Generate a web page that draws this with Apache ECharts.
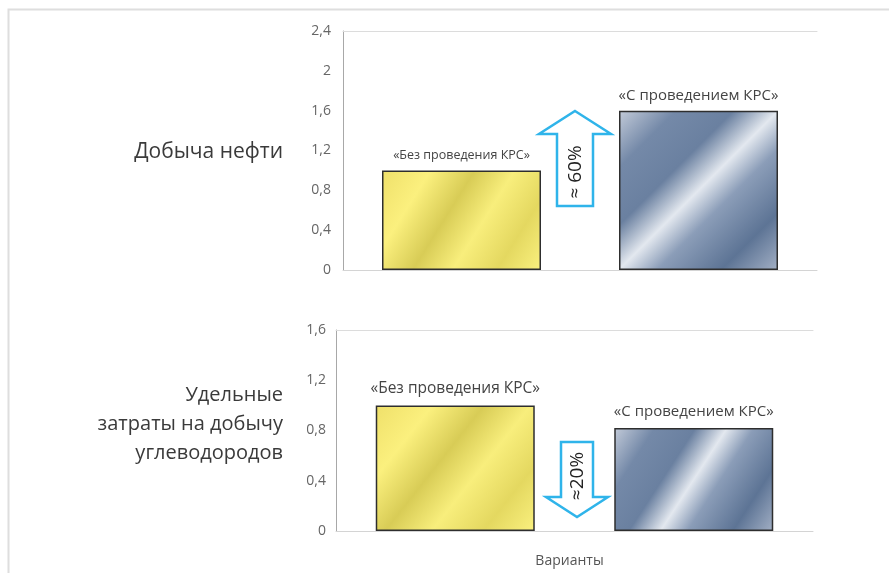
<!DOCTYPE html>
<html>
<head>
<meta charset="utf-8">
<script src="https://cdn.jsdelivr.net/npm/echarts@6/dist/echarts.min.js"></script>
<style>
  html, body { margin: 0; padding: 0; background: #fff; }
  #chart { width: 889px; height: 573px; }
</style>
</head>
<body>
<div id="chart"></div>
<script>
// Categories (variants) and values for both panels
const categories = ['«Без проведения КРС»', '«С проведением КРС»'];
const oilProduction = [1.0, 1.6];          // Добыча нефти
const specificCosts = [1.0, 0.82];         // Удельные затраты
const oilAxis = { max: 2.4, interval: 0.4 };
const costAxis = { max: 1.6, interval: 0.4 };
const oilChangeText = '≈ 60%';
const costChangeText = '≈20%';

const FONT = '"Open Sans", "Noto Sans", sans-serif';

const goldFill = new echarts.graphic.LinearGradient(0, 0, 1, 1, [
  { offset: 0, color: '#efe06a' },
  { offset: 0.22, color: '#fbf07e' },
  { offset: 0.42, color: '#d8cc56' },
  { offset: 0.6, color: '#f8ee7c' },
  { offset: 0.8, color: '#e4d860' },
  { offset: 1, color: '#faf17f' }
]);
const steelFill = new echarts.graphic.LinearGradient(0, 0, 1, 1, [
  { offset: 0, color: '#c3cbd9' },
  { offset: 0.18, color: '#7489a8' },
  { offset: 0.36, color: '#6a80a0' },
  { offset: 0.5, color: '#e3e8ef' },
  { offset: 0.62, color: '#8b9db8' },
  { offset: 0.82, color: '#5d7495' },
  { offset: 1, color: '#a3b0c5' }
]);
const fills = [goldFill, steelFill];

function fmt(v) {
  return String(+v.toFixed(1)).replace('.', ',');
}

function barData(values, labelSizes, labelDist) {
  return values.map((v, i) => ({
    value: v,
    itemStyle: { color: fills[i], borderColor: '#2e2e2e', borderWidth: 1.5 },
    label: { fontSize: labelSizes[i], distance: labelDist[i] }
  }));
}

const chart = echarts.init(document.getElementById('chart'), null, { renderer: 'canvas' });

const baseY = (idx, cfg, margin) => ({
  type: 'value', gridIndex: idx, min: 0, max: cfg.max, interval: cfg.interval,
  axisLine: { show: true, lineStyle: { color: '#a8a8a8', width: 1 } },
  axisTick: { show: false },
  splitLine: { show: false },
  axisLabel: { formatter: fmt, color: '#666', fontSize: 14, fontFamily: FONT, margin: margin }
});
const baseX = (idx, pos, extra) => Object.assign({
  type: 'category', gridIndex: idx, data: categories, position: pos,
  axisLine: { show: true, lineStyle: { color: '#d4d4d4', width: 1 } },
  axisTick: { show: false },
  axisLabel: { show: false }
}, extra || {});

function arrowUp(cx, tipY, headY, baseY, shaftHalf, headHalf) {
  return [[cx, tipY], [cx + headHalf, headY], [cx + shaftHalf, headY], [cx + shaftHalf, baseY],
          [cx - shaftHalf, baseY], [cx - shaftHalf, headY], [cx - headHalf, headY]];
}
function arrowDown(cx, topY, headY, tipY, shaftHalf, headHalf) {
  return [[cx - shaftHalf, topY], [cx + shaftHalf, topY], [cx + shaftHalf, headY], [cx + headHalf, headY],
          [cx, tipY], [cx - headHalf, headY], [cx - shaftHalf, headY]];
}

const arrowStyle = { fill: '#ffffff', stroke: '#2fb4ea', lineWidth: 2.5, lineJoin: 'miter' };

chart.setOption({
  animation: false,
  grid: [
    { left: 343, top: 31, width: 474, height: 239 },
    { left: 336, top: 330, width: 477, height: 201 }
  ],
  xAxis: [
    baseX(0, 'bottom'),
    baseX(1, 'bottom', {
      name: 'Варианты', nameLocation: 'middle', nameGap: 23,
      nameTextStyle: { color: '#555', fontSize: 14, fontFamily: FONT, padding: [0, 10, 0, 0] }
    }),
    baseX(0, 'top', { axisLine: { show: true, lineStyle: { color: '#dcdcdc' } } }),
    baseX(1, 'top', { axisLine: { show: true, lineStyle: { color: '#dcdcdc' } } })
  ],
  yAxis: [baseY(0, oilAxis, 12), baseY(1, costAxis, 10)],
  series: [
    {
      type: 'bar', xAxisIndex: 0, yAxisIndex: 0, barWidth: 159,
      data: barData(oilProduction, [12.5, 15], [8, 7]),
      label: {
        show: true, position: 'top', color: '#444', fontFamily: FONT,
        formatter: p => categories[p.dataIndex]
      }
    },
    {
      type: 'bar', xAxisIndex: 1, yAxisIndex: 1, barWidth: 159,
      data: barData(specificCosts, [15.5, 15], [9, 9]),
      label: {
        show: true, position: 'top', color: '#444', fontFamily: FONT,
        formatter: p => categories[p.dataIndex]
      }
    }
  ],
  graphic: [
    // outer frame
    { type: 'polyline', shape: { points: [[8.5, 573], [8.5, 9.5], [889, 9.5]] },
      style: { stroke: '#dedede', lineWidth: 2, fill: null }, silent: true },
    // panel titles
    { type: 'text', x: 283, y: 152,
      style: { text: 'Добыча нефти', fontSize: 21, fontFamily: FONT, fill: '#3a3a3a',
               align: 'right', verticalAlign: 'middle' } },
    { type: 'text', x: 283, y: 424,
      style: { text: 'Удельные\nзатраты на добычу\nуглеводородов', fontSize: 20, lineHeight: 29,
               fontFamily: FONT, fill: '#3a3a3a', align: 'right', verticalAlign: 'middle' } },
    // change arrows
    { type: 'polygon', shape: { points: arrowUp(575, 111, 134, 206, 18, 36) }, style: arrowStyle, z: 10 },
    { type: 'text', x: 576, y: 172, rotation: Math.PI / 2, z: 11,
      style: { text: oilChangeText, fontSize: 19, fontFamily: FONT, fill: '#222',
               align: 'center', verticalAlign: 'middle' } },
    { type: 'polygon', shape: { points: arrowDown(577, 442, 497, 517, 16, 31) }, style: arrowStyle, z: 10 },
    { type: 'text', x: 578, y: 476, rotation: Math.PI / 2, z: 11,
      style: { text: costChangeText, fontSize: 19, fontFamily: FONT, fill: '#222',
               align: 'center', verticalAlign: 'middle' } }
  ]
});
</script>
</body>
</html>
